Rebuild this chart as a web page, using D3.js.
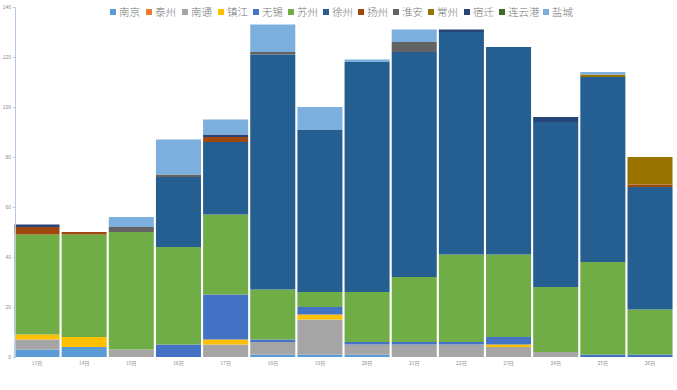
<!DOCTYPE html>
<html><head><meta charset="utf-8">
<script src="https://cdn.jsdelivr.net/npm/d3@7/dist/d3.min.js"></script>
<style>body{margin:0;background:#fff;}svg{display:block;font-family:"Noto Sans CJK SC","Noto Sans",sans-serif;}</style>
</head><body><svg id="c" width="677" height="390"></svg>
<script>
const days = ["13日","14日","15日","16日","17日","18日","19日","20日","21日","22日","23日","24日","25日","26日"];
const cities = ["南京","泰州","南通","镇江","无锡","苏州","徐州","扬州","淮安","常州","宿迁","连云港","盐城"];
const colors = ["#5b9bd5","#ed7d31","#a5a5a5","#ffc000","#4472c4","#70ad47","#255e91","#9e480e","#636363","#997300","#264478","#43682b","#7cafdd"];
const nanjing   = [3,4,0,0,0,1,1,1,0,0,0,0,0,0];
const taizhou   = [0,0,0,0,0,0,0,0,0,0,0,0,0,0];
const nantong   = [4,0,3,0,5,5,14,4,5,5,4,2,0,0];
const zhenjiang = [2,4,0,0,2,0,2,0,0,0,1,0,0,0];
const wuxi      = [0,0,0,5,18,1,3,1,1,1,3,0,1,1];
const suzhou    = [40,41,47,39,32,20,6,20,26,35,33,26,37,18];
const xuzhou    = [0,0,0,28,29,94,65,92,90,89,83,66,74,49];
const yangzhou  = [3,1,0,0,2,0,0,0,0,0,0,0,0,1];
const huaian    = [0,0,2,1,0,1,0,0,4,0,0,0,0,0];
const changzhou = [0,0,0,0,0,0,0,0,0,0,0,0,1,11];
const suqian    = [1,0,0,0,1,0,0,0,0,1,0,2,0,0];
const lianyungang = [0,0,0,0,0,0,0,0,0,0,0,0,0,0];
const yancheng  = [0,0,4,14,6,11,9,1,5,0,0,0,1,0];
const yTicks = [0,20,40,60,80,100,120,140];

const series = [nanjing,taizhou,nantong,zhenjiang,wuxi,suzhou,xuzhou,yangzhou,huaian,changzhou,suqian,lianyungang,yancheng];
const rows = days.map((d,i)=>{const r={day:d}; cities.forEach((c,j)=>r[c]=series[j][i]); return r;});
const stack = d3.stack().keys(cities)(rows);

const svg = d3.select("#c");
const x = d3.scaleBand().domain(days).range([14,673]).paddingInner(0.045).paddingOuter(0.01);
const y = d3.scaleLinear().domain([0,140]).range([357,7]);

svg.append("g").selectAll("g").data(stack).join("g")
  .attr("fill",(d,i)=>colors[i])
  .selectAll("rect").data(d=>d).join("rect")
  .attr("x",d=>x(d.data.day)).attr("width",x.bandwidth())
  .attr("y",d=>y(d[1])).attr("height",d=>Math.max(0,y(d[0])-y(d[1])));

const ya = svg.append("g").attr("transform","translate(15,0)")
  .call(d3.axisLeft(y).tickValues(yTicks).tickSize(2).tickPadding(2));
ya.select(".domain").attr("stroke","#b4c7e7");
ya.selectAll(".tick line").attr("stroke","#b4c7e7");
ya.selectAll("text").attr("fill","#8c8c8c").style("font-size","5px");

svg.append("g").selectAll("text").data(days).join("text")
  .attr("x",d=>x(d)+x.bandwidth()/2).attr("y",365)
  .attr("text-anchor","middle").attr("fill","#8c8c8c").style("font-size","5px").text(d=>d);

const lx = [110,146,182,218,253,288,323,358,393,428,464,499,543];
const lg = svg.append("g");
cities.forEach((c,i)=>{
  lg.append("rect").attr("x",lx[i]).attr("y",9).attr("width",6).attr("height",6).attr("fill",colors[i]);
  lg.append("text").attr("x",lx[i]+9).attr("y",15.5).attr("fill","#767676").style("font-size","10.5px").style("font-weight","300").text(c);
});
</script></body></html>
